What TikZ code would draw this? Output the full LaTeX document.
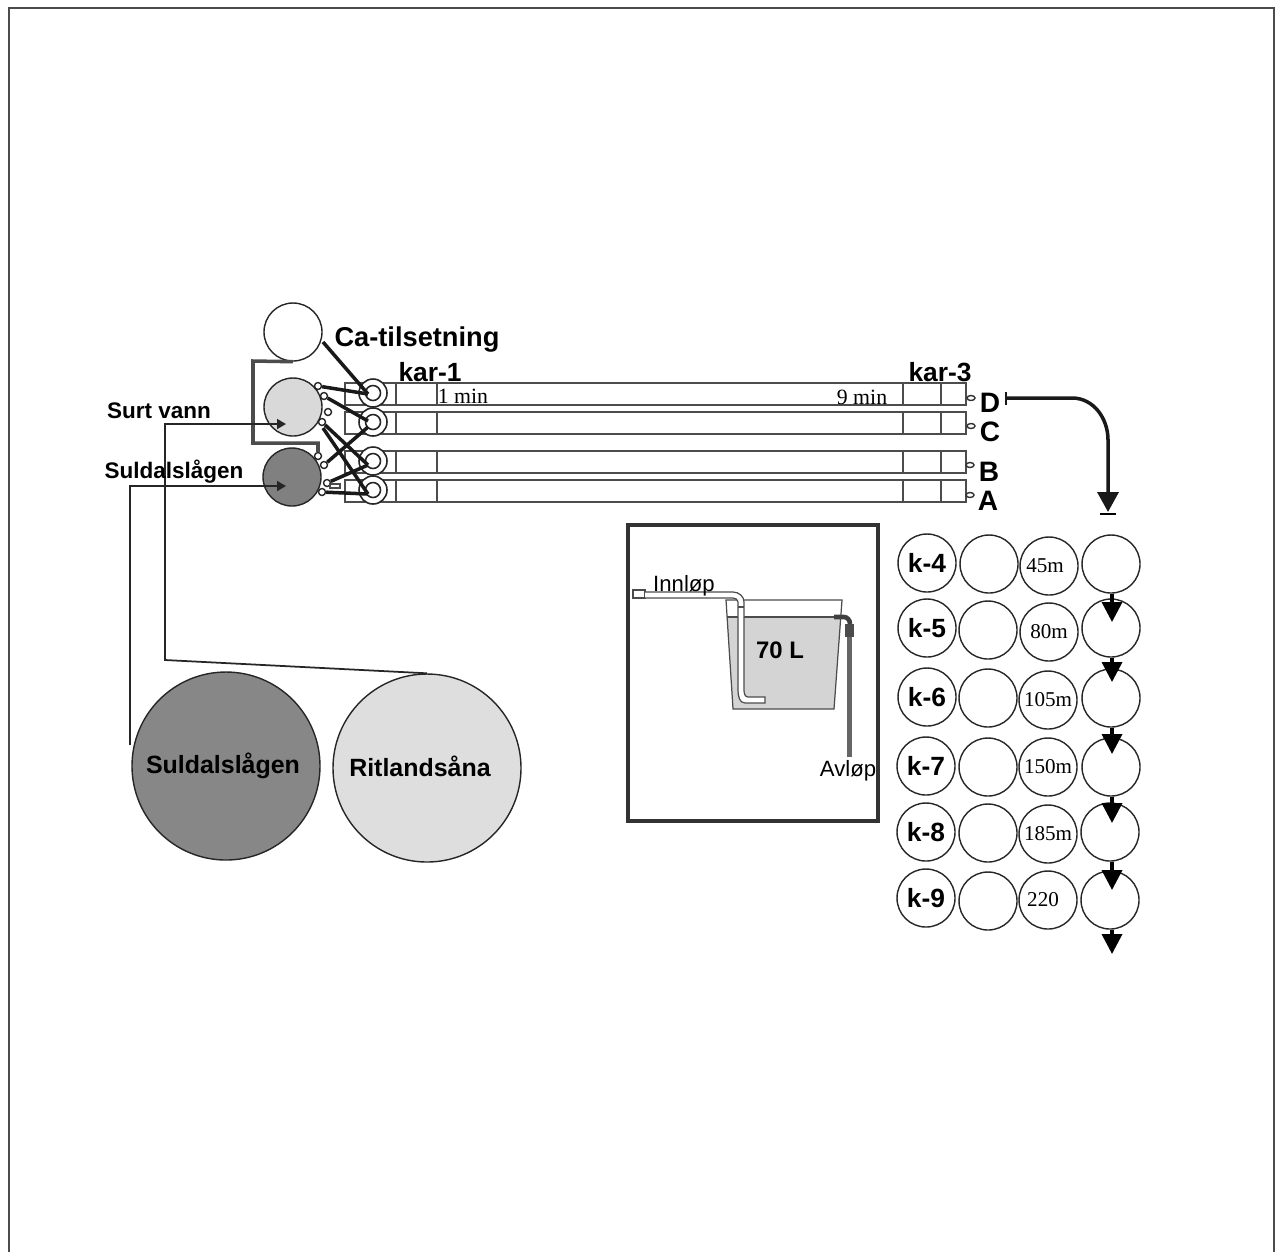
\documentclass[tikz,border=0pt]{standalone}
\usepackage{fontspec}
\setmainfont{Liberation Sans}
\newfontfamily\timesfont{Liberation Serif}
\usetikzlibrary{arrows.meta,shapes.geometric}
\tikzset{
  thinline/.style={draw=black!70, line width=0.35pt},
  roundtank/.style={circle, draw=black!85, line width=0.4pt, minimum size=0.58cm, inner sep=0pt},
  river/.style={circle, draw=black!85, line width=0.4pt, minimum size=1.88cm, inner sep=0pt},
  ring/.style={circle, draw=black!85, line width=0.45pt, inner sep=0pt},
  nozzle/.style={circle, draw=black!85, fill=white, line width=0.4pt, minimum size=0.07cm, inner sep=0pt},
  outlet/.style={ellipse, draw=black!80, fill=white, line width=0.4pt, minimum width=0.08cm, minimum height=0.05cm, inner sep=0pt},
  pipe/.style={black!90, line width=1pt},
  feed/.style={black!85, line width=0.5pt, -{Triangle[length=0.9mm,width=1mm]}},
  drop/.style={black, line width=1pt, -{Triangle[length=2mm,width=2mm]}},
  lab/.style={inner sep=0pt, font=\bfseries\fontsize{7.5}{9}\selectfont},
  serif/.style={inner sep=0pt, font=\timesfont\fontsize{6}{7}\selectfont},
}
\begin{document}
\begin{tikzpicture}[x=1cm,y=-1cm]
    \useasboundingbox (0,0) rectangle (12.8,12.52);
    % Draw the page frame
    \draw[black!70, line width=0.4pt] (0.09,12.52) -- (0.09,0.08) -- (12.74,0.08) -- (12.74,12.52);
    % Draw the long tanks
    \draw[thinline] (3.45,3.83) rectangle (9.66,4.05);
    \draw[thinline] (3.45,4.12) rectangle (9.66,4.34);
    \draw[thinline] (3.45,4.51) rectangle (9.66,4.73);
    \draw[thinline] (3.45,4.80) rectangle (9.66,5.02);
    % Draw the tank dividers
    \draw[thinline] (3.96,3.83) -- (3.96,4.05) (4.37,3.83) -- (4.37,4.05) (9.03,3.83) -- (9.03,4.05) (9.41,3.83) -- (9.41,4.05);
    \draw[thinline] (3.96,4.12) -- (3.96,4.34) (4.37,4.12) -- (4.37,4.34) (9.03,4.12) -- (9.03,4.34) (9.41,4.12) -- (9.41,4.34);
    \draw[thinline] (3.96,4.51) -- (3.96,4.73) (4.37,4.51) -- (4.37,4.73) (9.03,4.51) -- (9.03,4.73) (9.41,4.51) -- (9.41,4.73);
    \draw[thinline] (3.96,4.80) -- (3.96,5.02) (4.37,4.80) -- (4.37,5.02) (9.03,4.80) -- (9.03,5.02) (9.41,4.80) -- (9.41,5.02);
    % Draw the rings at the tank heads
    \node[ring, fill=white, minimum size=0.28cm] (ringD) at (3.73,3.93) {};
    \node[ring, fill=white, minimum size=0.28cm] (ringC) at (3.73,4.22) {};
    \node[ring, fill=white, minimum size=0.28cm] (ringB) at (3.73,4.61) {};
    \node[ring, fill=white, minimum size=0.28cm] (ringA) at (3.73,4.90) {};
    \node[ring, minimum size=0.15cm] (innerD) at (ringD) {};
    \node[ring, minimum size=0.15cm] (innerC) at (ringC) {};
    \node[ring, minimum size=0.15cm] (innerB) at (ringB) {};
    \node[ring, minimum size=0.15cm] (innerA) at (ringA) {};
    % Draw the outlets at the tank ends
    \node[outlet] (outD) at (9.71,3.98) {};
    \node[outlet] (outC) at (9.71,4.26) {};
    \node[outlet] (outB) at (9.70,4.65) {};
    \node[outlet] (outA) at (9.70,4.95) {};
    % Draw the head tanks
    \node[roundtank, fill=white] (caTank) at (2.93,3.32) {};
    \node[roundtank, fill=black!15] (acidTank) at (2.93,4.07) {};
    \node[roundtank, fill=black!50] (riverTank) at (2.92,4.77) {};
    % Draw the nozzles
    \node[nozzle] (acidA) at (3.18,3.86) {};
    \node[nozzle] (acidB) at (3.24,3.96) {};
    \node[nozzle] (acidC) at (3.28,4.12) {};
    \node[nozzle] (acidD) at (3.22,4.22) {};
    \coordinate (acidE) at (3.23,4.28);
    \node[nozzle] (riverA) at (3.18,4.56) {};
    \node[nozzle] (riverB) at (3.24,4.65) {};
    \node[nozzle] (riverC) at (3.27,4.83) {};
    \node[nozzle] (riverD) at (3.22,4.92) {};
    \draw[thinline, fill=white] (3.30,4.84) rectangle (3.40,4.88);
    % Draw the thick pipes to the rings
    \coordinate (endD) at (3.68,3.94);
    \coordinate (endC) at (3.68,4.21);
    \coordinate (endCb) at (3.68,4.27);
    \coordinate (endB) at (3.68,4.65);
    \coordinate (endA) at (3.68,4.94);
    \draw[pipe] (acidA) -- (endD);
    \draw[pipe] (acidB) -- (endC);
    \draw[pipe] (acidD) -- (endB);
    \draw[pipe] (acidE) -- (endA);
    \draw[pipe] (riverB) -- (endCb);
    \draw[pipe] (riverC) -- (endB);
    \draw[pipe] (riverD) -- (endA);
    % Draw the lime pipes
    \coordinate (caOut) at (3.23,3.42);
    \draw[pipe] (caOut) -- (endD);
    \draw[pipe, black!70] (caTank.south) -- (2.53,3.61) -- (2.53,4.43) -- (3.18,4.43) -- (riverA);
    % Draw the rivers
    \node[river, fill=black!47] (bigSuldal) at (2.26,7.66) {};
    \node[river, fill=black!13] (bigRitland) at (4.27,7.68) {};
    % Draw the feed lines
    \coordinate (acidTip) at (2.86,4.24);
    \coordinate (riverTip) at (2.86,4.86);
    \draw[feed] (bigRitland.north) -- (1.65,6.60) -- (1.65,4.24) -- (acidTip);
    \draw[feed] (1.30,7.45) -- (1.30,4.86) -- (riverTip);
    % Draw the tank labels
    \node[lab, font=\bfseries\fontsize{7.75}{9}\selectfont] (caLabel) at (4.17,3.40) {Ca-tilsetning};
    \node[lab] (kar1) at (4.30,3.72) {kar-1};
    \node[lab] (kar3) at (9.40,3.72) {kar-3};
    \node[serif, font=\timesfont\fontsize{6.2}{7}\selectfont] (oneMin) at (4.63,3.96) {1 min};
    \node[serif, font=\timesfont\fontsize{6.2}{7}\selectfont] (nineMin) at (8.62,3.97) {9 min};
    \node[lab, font=\bfseries\fontsize{8}{9}\selectfont] (labD) at (9.90,4.03) {D};
    \node[lab, font=\bfseries\fontsize{8}{9}\selectfont] (labC) at (9.90,4.32) {C};
    \node[lab, font=\bfseries\fontsize{8}{9}\selectfont] (labB) at (9.89,4.72) {B};
    \node[lab, font=\bfseries\fontsize{8}{9}\selectfont] (labA) at (9.88,5.01) {A};
    \node[lab, font=\bfseries\fontsize{6.4}{8}\selectfont] (surtLabel) at (1.59,4.11) {Surt vann};
    \node[lab, font=\bfseries\fontsize{6.4}{8}\selectfont] (suldalLabel) at (1.74,4.72) {Suldalslågen};
    \node[lab, font=\bfseries\fontsize{7.1}{8}\selectfont] (bigSuldalLabel) at (2.23,7.66) {Suldalslågen};
    \node[lab, font=\bfseries\fontsize{7.1}{8}\selectfont] (bigRitlandLabel) at (4.20,7.66) {Ritlandsåna};
    % Draw the small test tank
    \draw[black!80, line width=0.9pt] (6.28,5.25) rectangle (8.78,8.21);
    \fill[black!17] (7.27,6.17) -- (8.41,6.17) -- (8.34,7.09) -- (7.33,7.09) -- cycle;
    \draw[thinline] (7.26,6.00) -- (8.42,6.00) -- (8.34,7.09) -- (7.33,7.09) -- cycle;
    \draw[thinline] (7.27,6.17) -- (8.41,6.17);
    \draw[thinline, fill=white] (6.33,5.90) rectangle (6.45,5.98);
    \draw[thinline, fill=white] (6.45,5.92) -- (7.33,5.92) to[out=0,in=90] (7.44,6.02) -- (7.44,6.90) to[out=-90,in=180] (7.48,6.97) -- (7.65,6.97) -- (7.65,7.03) -- (7.45,7.03) to[out=180,in=-90] (7.38,6.90) -- (7.38,6.02) to[out=90,in=0] (7.33,5.98) -- (6.45,5.98);
    \draw[thinline] (7.38,6.07) -- (7.44,6.07);
    % Draw the outlet hose
    \fill[black!60] (8.47,6.24) rectangle (8.52,7.57);
    \fill[black!70] (8.45,6.24) rectangle (8.54,6.37);
    \draw[black!75, line width=1.3pt] (8.34,6.17) -- (8.44,6.17) to[out=0,in=90] (8.50,6.24);
    \node[lab, font=\bfseries\fontsize{6.8}{8}\selectfont] (volLabel) at (7.80,6.50) {70 L};
    \node[inner sep=0pt, font=\fontsize{6.3}{8}\selectfont] (inLabel) at (6.84,5.86) {Innløp};
    \node[inner sep=0pt, font=\fontsize{6.3}{8}\selectfont] (outLabel) at (8.48,7.71) {Avløp};
    % Draw the first row of fish tanks
    \node[roundtank, lab] (k4) at (9.27,5.63) {k-4};
    \node[roundtank] (k4b) at (9.89,5.64) {};
    \node[roundtank, serif] (k4c) at (10.49,5.66) {45m\kern0.8mm};
    \node[roundtank] (k4d) at (11.11,5.64) {};
    % Draw the second row
    \node[roundtank, lab] (k5) at (9.27,6.28) {k-5};
    \node[roundtank] (k5b) at (9.88,6.30) {};
    \node[roundtank, serif] (k5c) at (10.49,6.32) {80m};
    \node[roundtank] (k5d) at (11.11,6.28) {};
    % Draw the third row
    \node[roundtank, lab] (k6) at (9.27,6.97) {k-6};
    \node[roundtank] (k6b) at (9.88,6.98) {};
    \node[roundtank, serif] (k6c) at (10.48,7.00) {105m};
    \node[roundtank] (k6d) at (11.11,6.98) {};
    % Draw the fourth row
    \node[roundtank, lab] (k7) at (9.26,7.66) {k-7};
    \node[roundtank] (k7b) at (9.88,7.67) {};
    \node[roundtank, serif] (k7c) at (10.48,7.67) {150m};
    \node[roundtank] (k7d) at (11.11,7.67) {};
    % Draw the fifth row
    \node[roundtank, lab] (k8) at (9.26,8.32) {k-8};
    \node[roundtank] (k8b) at (9.88,8.33) {};
    \node[roundtank, serif] (k8c) at (10.48,8.34) {185m};
    \node[roundtank] (k8d) at (11.10,8.32) {};
    % Draw the last row
    \node[roundtank, lab] (k9) at (9.26,8.98) {k-9};
    \node[roundtank] (k9b) at (9.88,9.01) {};
    \node[roundtank, serif] (k9c) at (10.48,9.00) {220\kern1mm};
    \node[roundtank] (k9d) at (11.10,9.00) {};
    % Draw the outflow from D down to the fish tanks
    \coordinate (dStart) at (10.06,3.98);
    \coordinate (dEnd) at (11.08,5.12);
    \draw[black!90, line width=0.8pt] (10.06,3.92) -- (10.06,4.05);
    \draw[black!90, line width=1pt, -{Triangle[length=2mm,width=2.1mm]}] (dStart) -- (10.72,3.98) to[out=0,in=90] (11.08,4.40) -- (dEnd);
    \draw[black, line width=0.8pt] (11.00,5.14) -- (11.16,5.14);
    % Draw the arrows between the fish tanks
    \coordinate (tip5) at (11.12,6.22);
    \coordinate (tip6) at (11.12,6.82);
    \coordinate (tip7) at (11.12,7.54);
    \coordinate (tip8) at (11.12,8.23);
    \coordinate (tip9) at (11.12,8.90);
    \coordinate (tip10) at (11.12,9.54);
    \draw[drop] (k4d.south -| tip5) -- (tip5);
    \draw[drop] (k5d.south -| tip6) -- (tip6);
    \draw[drop] (k6d.south -| tip7) -- (tip7);
    \draw[drop] (k7d.south -| tip8) -- (tip8);
    \draw[drop] (k8d.south -| tip9) -- (tip9);
    \draw[drop] (k9d.south -| tip10) -- (tip10);
\end{tikzpicture}
\end{document}
